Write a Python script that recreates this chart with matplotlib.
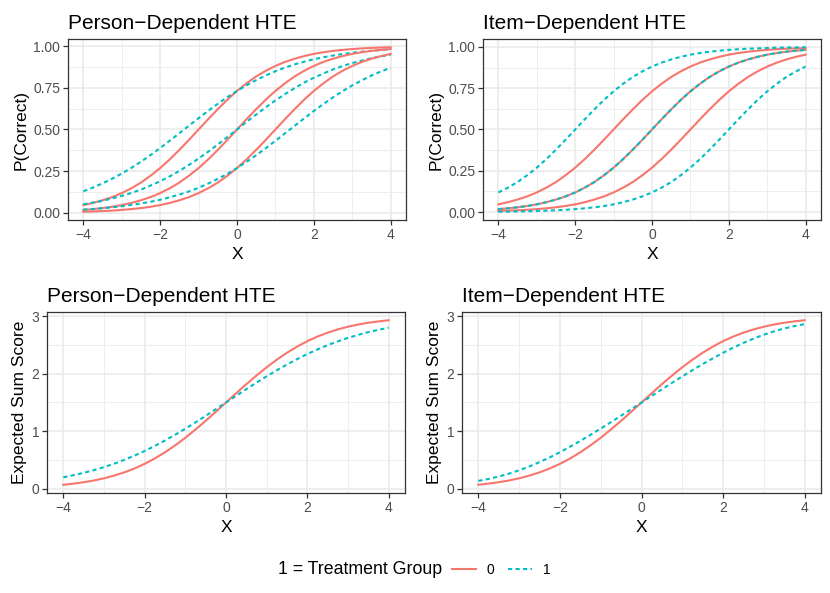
import matplotlib
matplotlib.use("Agg")
import matplotlib.pyplot as plt
from matplotlib.lines import Line2D

plt.rcParams['font.family'] = ['Liberation Sans', 'DejaVu Sans']

# x grid the curves were read on (quarter steps)
x = [-4, -3.75, -3.5, -3.25, -3, -2.75, -2.5, -2.25, -2, -1.75, -1.5, -1.25,
     -1, -0.75, -0.5, -0.25, 0, 0.25, 0.5, 0.75, 1, 1.25, 1.5, 1.75,
     2, 2.25, 2.5, 2.75, 3, 3.25, 3.5, 3.75, 4]

# control group item curves (same in both panels)
red_easy = [0.047, 0.060, 0.076, 0.095, 0.119, 0.148, 0.182, 0.223, 0.269, 0.321, 0.378,
            0.438, 0.5, 0.562, 0.622, 0.679, 0.731, 0.777, 0.818, 0.852, 0.881, 0.905,
            0.924, 0.940, 0.953, 0.963, 0.971, 0.977, 0.982, 0.986, 0.989, 0.991, 0.993]
red_mid = [0.018, 0.023, 0.029, 0.037, 0.047, 0.060, 0.076, 0.095, 0.119, 0.148, 0.182,
           0.223, 0.269, 0.321, 0.378, 0.438, 0.5, 0.562, 0.622, 0.679, 0.731, 0.777,
           0.818, 0.852, 0.881, 0.905, 0.924, 0.940, 0.953, 0.963, 0.971, 0.977, 0.982]
red_hard = [0.007, 0.009, 0.011, 0.014, 0.018, 0.023, 0.029, 0.037, 0.047, 0.060, 0.076,
            0.095, 0.119, 0.148, 0.182, 0.223, 0.269, 0.321, 0.378, 0.438, 0.5, 0.562,
            0.622, 0.679, 0.731, 0.777, 0.818, 0.852, 0.881, 0.905, 0.924, 0.940, 0.953]

# treatment group, person-dependent HTE
pers_easy = [0.130, 0.152, 0.177, 0.205, 0.236, 0.270, 0.307, 0.347, 0.389, 0.433, 0.478,
             0.523, 0.568, 0.612, 0.654, 0.694, 0.731, 0.765, 0.796, 0.824, 0.849, 0.871,
             0.890, 0.906, 0.921, 0.933, 0.943, 0.952, 0.960, 0.966, 0.972, 0.976, 0.980]
pers_mid = [0.052, 0.062, 0.073, 0.087, 0.102, 0.120, 0.140, 0.164, 0.190, 0.219, 0.252,
            0.288, 0.326, 0.367, 0.410, 0.455, 0.5, 0.545, 0.590, 0.633, 0.674, 0.712,
            0.748, 0.781, 0.810, 0.836, 0.860, 0.880, 0.898, 0.913, 0.927, 0.938, 0.948]
pers_hard = [0.020, 0.024, 0.028, 0.034, 0.040, 0.048, 0.057, 0.067, 0.079, 0.094, 0.110,
             0.129, 0.151, 0.176, 0.204, 0.235, 0.269, 0.306, 0.346, 0.388, 0.432, 0.477,
             0.522, 0.567, 0.611, 0.653, 0.693, 0.730, 0.764, 0.795, 0.823, 0.848, 0.870]

# treatment group, item-dependent HTE
item_easy = [0.119, 0.148, 0.182, 0.223, 0.269, 0.321, 0.378, 0.438, 0.5, 0.562, 0.622,
             0.679, 0.731, 0.777, 0.818, 0.852, 0.881, 0.905, 0.924, 0.940, 0.953, 0.963,
             0.971, 0.977, 0.982, 0.986, 0.989, 0.991, 0.993, 0.995, 0.996, 0.997, 0.998]
item_mid = [0.018, 0.023, 0.029, 0.037, 0.047, 0.060, 0.076, 0.095, 0.119, 0.148, 0.182,
            0.223, 0.269, 0.321, 0.378, 0.438, 0.5, 0.562, 0.622, 0.679, 0.731, 0.777,
            0.818, 0.852, 0.881, 0.905, 0.924, 0.940, 0.953, 0.963, 0.971, 0.977, 0.982]
item_hard = [0.002, 0.003, 0.004, 0.005, 0.007, 0.009, 0.011, 0.014, 0.018, 0.023, 0.029,
             0.037, 0.047, 0.060, 0.076, 0.095, 0.119, 0.148, 0.182, 0.223, 0.269, 0.321,
             0.378, 0.438, 0.5, 0.562, 0.622, 0.679, 0.731, 0.777, 0.818, 0.852, 0.881]

# expected sum scores
sum_red = [0.072, 0.092, 0.116, 0.146, 0.184, 0.231, 0.287, 0.355, 0.435, 0.529, 0.636,
           0.756, 0.888, 1.031, 1.182, 1.340, 1.5, 1.660, 1.818, 1.969, 2.112, 2.244,
           2.364, 2.471, 2.565, 2.645, 2.713, 2.769, 2.816, 2.854, 2.884, 2.908, 2.928]
sum_pers = [0.202, 0.238, 0.278, 0.326, 0.378, 0.438, 0.504, 0.578, 0.658, 0.746, 0.840,
            0.940, 1.045, 1.155, 1.268, 1.384, 1.5, 1.616, 1.732, 1.845, 1.955, 2.060,
            2.160, 2.254, 2.342, 2.422, 2.496, 2.562, 2.622, 2.674, 2.722, 2.762, 2.798]
sum_item = [0.139, 0.174, 0.215, 0.265, 0.323, 0.390, 0.465, 0.547, 0.637, 0.733, 0.833,
            0.939, 1.047, 1.158, 1.272, 1.385, 1.5, 1.615, 1.728, 1.842, 1.953, 2.061,
            2.167, 2.267, 2.363, 2.453, 2.535, 2.610, 2.677, 2.735, 2.785, 2.826, 2.861]

RED = '#F8766D'
CYAN = '#00BFC4'
LW = 1.5
DASH = (2.0, 1.6)

W, H = 830, 593
fig = plt.figure(figsize=(W / 100, H / 100), dpi=100)


def make_ax(l, t, r, b):
    return fig.add_axes([l / W, 1 - b / H, (r - l) / W, (b - t) / H])


def style(ax, title, ylabel, yticks, yminor, fmt, ydata):
    ax.set_xlim(-4.4, 4.4)
    lo, hi = min(ydata), max(ydata)
    pad = 0.05 * (hi - lo)
    ax.set_ylim(lo - pad, hi + pad)
    ax.set_xticks([-4, -2, 0, 2, 4])
    ax.set_xticks([-3, -1, 1, 3], minor=True)
    ax.set_yticks(yticks)
    ax.set_yticklabels([fmt.format(v) for v in yticks])
    ax.set_yticks(yminor, minor=True)
    ax.grid(True, which='major', color='#EBEBEB', lw=1.2, zorder=0)
    ax.grid(True, which='minor', color='#EBEBEB', lw=0.6, zorder=0)
    ax.set_axisbelow(True)
    ax.tick_params(which='major', length=3.5, width=0.9, color='#333333',
                   labelcolor='#4D4D4D', labelsize=10, pad=2)
    ax.tick_params(which='minor', length=0)
    for s in ax.spines.values():
        s.set_color('#333333')
        s.set_linewidth(0.9)
    ax.set_xlabel('X', fontsize=12.5, labelpad=4)
    ax.set_ylabel(ylabel, fontsize=12.5, labelpad=3)
    ax.set_title(title, loc='left', fontsize=15, pad=7)


p_ticks = [0, 0.25, 0.5, 0.75, 1.0]
p_minor = [0.125, 0.375, 0.625, 0.875]
s_ticks = [0, 1, 2, 3]
s_minor = [0.5, 1.5, 2.5]

# top left: person-dependent item curves
ax1 = make_ax(68, 39, 406, 220)
for red, blue in zip([red_easy, red_mid, red_hard], [pers_easy, pers_mid, pers_hard]):
    ax1.plot(x, red, color=RED, lw=LW)
    ax1.plot(x, blue, color=CYAN, lw=LW, dashes=DASH)
style(ax1, 'Person\u2212Dependent HTE', 'P(Correct)', p_ticks, p_minor, '{:.2f}',
      red_easy + red_hard + pers_easy + pers_hard)

# top right: item-dependent item curves
ax2 = make_ax(483, 39, 821, 220)
for red, blue in zip([red_easy, red_mid, red_hard], [item_easy, item_mid, item_hard]):
    ax2.plot(x, red, color=RED, lw=LW)
    ax2.plot(x, blue, color=CYAN, lw=LW, dashes=DASH)
style(ax2, 'Item\u2212Dependent HTE', 'P(Correct)', p_ticks, p_minor, '{:.2f}',
      red_easy + red_hard + item_easy + item_hard)

# bottom left: person-dependent sum score
ax3 = make_ax(47, 312, 405, 493)
ax3.plot(x, sum_red, color=RED, lw=LW)
ax3.plot(x, sum_pers, color=CYAN, lw=LW, dashes=DASH)
style(ax3, 'Person\u2212Dependent HTE', 'Expected Sum Score', s_ticks, s_minor, '{:.0f}',
      sum_red + sum_pers)

# bottom right: item-dependent sum score
ax4 = make_ax(462, 312, 821, 493)
ax4.plot(x, sum_red, color=RED, lw=LW)
ax4.plot(x, sum_item, color=CYAN, lw=LW, dashes=DASH)
style(ax4, 'Item\u2212Dependent HTE', 'Expected Sum Score', s_ticks, s_minor, '{:.0f}',
      sum_red + sum_item)

# legend along the bottom
ly = 1 - 570 / H
fig.text(278 / W, ly, '1 = Treatment Group', fontsize=12.8, va='center', ha='left')
handles = [Line2D([], [], color=RED, lw=LW),
           Line2D([], [], color=CYAN, lw=LW, dashes=DASH)]
fig.legend(handles, ['0', '1'], loc='center left', bbox_to_anchor=(452 / W, ly),
           ncol=2, frameon=False, fontsize=10, handlelength=1.7,
           handletextpad=0.8, columnspacing=1.0, borderpad=0, borderaxespad=0)

fig.savefig('out.png', dpi=100)
